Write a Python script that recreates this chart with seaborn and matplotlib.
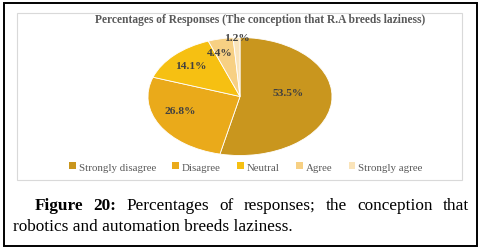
import matplotlib
matplotlib.use("Agg")
import matplotlib.pyplot as plt
from matplotlib.patches import Rectangle, Patch
import seaborn as sns
import numpy as np

categories = ["Strongly disagree", "Disagree", "Neutral", "Agree", "Strongly agree"]
values = [53.5, 26.8, 14.1, 4.4, 1.2]
colors = ["#C9961E", "#EAAA1A", "#F6C012", "#F7D083", "#FAE4BA"]
title = "Percentages of Responses (The conception that R.A breeds laziness)"
caption_bold = ["Figure", "20:"]
caption_line1 = ["Percentages", "of", "responses;", "the", "conception", "that"]
caption_line2 = "robotics and automation breeds laziness."

sns.set_theme(style="white")
plt.rcParams["font.family"] = ["Liberation Serif", "DejaVu Serif"]

W, H = 482, 251
fig = plt.figure(figsize=(W / 100, H / 100), dpi=100)
fig.patch.set_facecolor("white")

def fx(x):
    return x / W

def fy(y):
    return 1 - y / H

# outer black frame
fig.add_artist(Rectangle((fx(4), fy(247)), fx(477) - fx(4), fy(4) - fy(247),
                         transform=fig.transFigure, fill=False, edgecolor="black", linewidth=1.4))
# inner chart box
fig.add_artist(Rectangle((fx(17), fy(181)), fx(462) - fx(17), fy(14) - fy(181),
                         transform=fig.transFigure, fill=False, edgecolor="#D9D9D9", linewidth=0.8))

# pie axes (elliptical)
cx, cy, rx, ry = 240, 97.5, 92, 59
ax = fig.add_axes([fx(cx - rx), fy(cy + ry), 2 * rx / W, 2 * ry / H])
wedges, texts, autotexts = ax.pie(
    values, colors=colors, startangle=90, counterclock=False,
    autopct=lambda p: f"{p:.1f}%", pctdistance=0.6,
    wedgeprops=dict(edgecolor="white", linewidth=0.6),
    textprops=dict(fontsize=8.2, fontweight="bold", color="#404040"),
)
ax.set_aspect("auto")
ax.set_xlim(-1.0, 1.0)
ax.set_ylim(-1.0, 1.0)
ax.axis("off")

# label placement
radii = [0.55, 0.68, 0.75, 0.84, 0.97]
shifts = [(-0.02, 0.12), (-0.06, 0.1), (0.0, 0.0), (-0.04, -0.07), (0.0, 0.03)]
for w, t, r, (dx, dy) in zip(wedges, autotexts, radii, shifts):
    ang = np.deg2rad((w.theta1 + w.theta2) / 2)
    t.set_position((r * np.cos(ang) + dx, r * np.sin(ang) + dy))

fig.text(fx(260), fy(20), title, ha="center", va="center", fontsize=8.3,
         fontweight="bold", color="#595959")

handles = [Patch(facecolor=c, edgecolor="none") for c in colors]
leg = fig.legend(handles, categories, loc="center", bbox_to_anchor=(fx(246), fy(168)),
                 ncol=5, frameon=False, fontsize=7.8, handlelength=0.6, handleheight=0.55,
                 handletextpad=0.3, columnspacing=1.5, labelcolor="#595959")

# caption: justified first line
fs = 12.4
y1, y2 = fy(206), fy(227)
renderer = fig.canvas.get_renderer()
items = [(w, "bold") for w in caption_bold] + [(w, "normal") for w in caption_line1]
txts = []
for wd, weight in items:
    t = fig.text(0, y1, wd, ha="left", va="center", fontsize=fs, fontweight=weight, color="black")
    txts.append(t)
widths = [t.get_window_extent(renderer).width for t in txts]
left, right = 35, 469
gap = (right - left - sum(widths)) / (len(txts) - 1)
x = left
for t, wdt in zip(txts, widths):
    t.set_x(fx(x))
    x += wdt + gap
fig.text(fx(13), y2, caption_line2, ha="left", va="center", fontsize=fs, color="black")

fig.savefig("out.png", dpi=100)
